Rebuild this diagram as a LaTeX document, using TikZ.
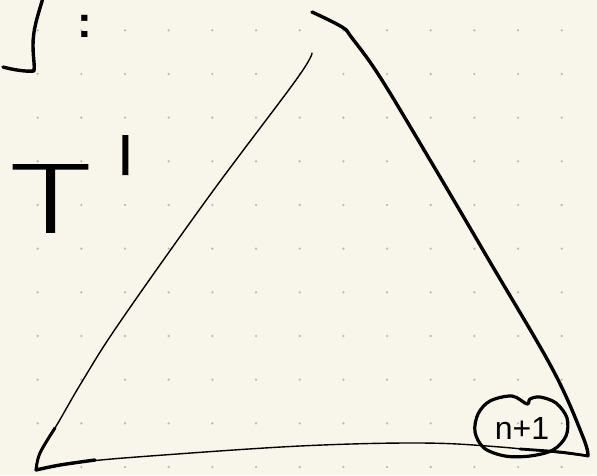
\documentclass[tikz,border=0pt]{standalone}
\usepackage{fontspec}
\usetikzlibrary{positioning}
\newfontfamily\handfont{Liberation Sans}
\newfontfamily\thinfont[FakeBold=2]{DejaVu Sans ExtraLight}
\definecolor{paper}{HTML}{F8F6EA}
\definecolor{griddot}{HTML}{BDBCB2}
\tikzset{
  ink/.style={line width=#1, line cap=round, line join=round, draw=black},
  ink/.default=3.2pt,
  hand/.style={inner sep=0pt, font=\handfont}
}

\begin{document}
\begin{tikzpicture}[x=1pt, y=-1pt]
    \fill[paper] (0,0) rectangle (597,475);
    \useasboundingbox (0,0) rectangle (597,475);

    % dot grid
    \foreach \i in {0,...,12} {
      \foreach \j in {0,...,10} {
        \fill[griddot] (37.7+43.67*\i, 30.3+43.67*\j) circle (1.3);
      }
    }

    % cut-off letter and colon
    \draw[ink=3.4pt] (43,-2) .. controls (37,18) and (33,30) .. (33,45)
      .. controls (33,58) and (35,66) .. (34,71) .. controls (25,72) and (10,69) .. (3,67);
    \node[hand, font=\handfont\bfseries\fontsize{44}{44}\selectfont, text height=0.56em, text depth=0pt, anchor=base] (colon) at (85,37) {:};

    % T'
    \node[hand, font=\thinfont\fontsize{92}{92}\selectfont, anchor=base west] (tee) at (11,232)
      {\scalebox{1.4}[1]{T}\kern0.25em\raisebox{-0.055em}{\scalebox{1}[1.5]{'}}};

    % triangle
    \coordinate (apex) at (312,12);
    \coordinate (bl) at (36,470);
    \coordinate (br) at (588,456);
    \draw[ink=1.4pt] plot[smooth, tension=0.6] coordinates {(312,53) (296,80) (210,195) (120,322) (83,380) (58,423) (40,453) (bl)};
    \draw[ink=3pt] plot[smooth, tension=0.6] coordinates {(55,428) (40,453) (bl)};
    \draw[ink=3.4pt] plot[smooth, tension=0.6] coordinates {(apex) (342,27) (352,38) (380,77) (430,160) (490,262) (553,370) (583,437) (br)};
    \draw[ink=1.4pt] plot[smooth, tension=0.6] coordinates {(bl) (83,462) (150,456) (300,446) (420,443) (500,447) (br)};
    \draw[ink=3.4pt] plot[smooth, tension=0.6] coordinates {(bl) (60,465) (95,460)};
    \draw[ink=2.8pt] plot[smooth, tension=0.6] coordinates {(520,449) (560,452) (br)};

    % circled label
    \node[hand, font=\handfont\fontsize{32}{32}\selectfont] (lbl) at (522,428) {n+1};
    \draw[ink=3.2pt] plot[smooth cycle, tension=0.55] coordinates {(527,404) (512,396) (490,401) (478,414) (475,432) (484,448) (505,456) (530,456) (553,450) (566,436) (567,418) (556,403) (540,397) (530,399)};
\end{tikzpicture}
\end{document}
